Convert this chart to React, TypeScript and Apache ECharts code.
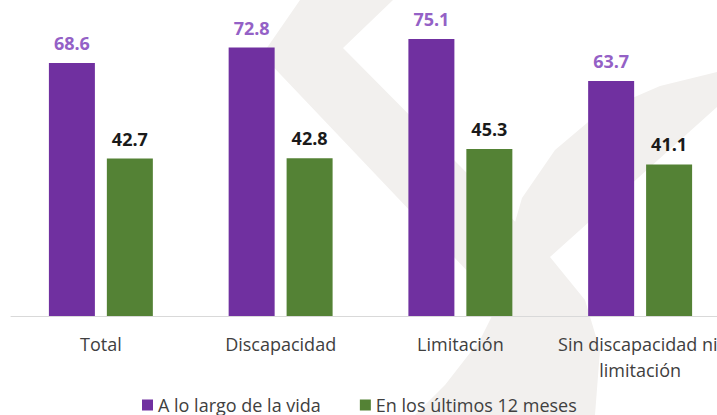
import React, { useEffect, useRef } from "react";
import * as echarts from "echarts";

const categories = ["Total", "Discapacidad", "Limitación", "Sin discapacidad ni limitación"];
const seriesNames = ["A lo largo de la vida", "En los últimos 12 meses"];
const lifetimeValues = [68.6, 72.8, 75.1, 63.7];
const last12Values = [42.7, 42.8, 45.3, 41.1];

const FONT = "'Open Sans', 'Noto Sans', sans-serif";
const PURPLE = "#7030A0";
const GREEN = "#548235";
const WATERMARK = "#f2f0ee";

export default function App() {
  const ref = useRef<HTMLDivElement>(null);

  useEffect(() => {
    if (!ref.current) return;
    const chart = echarts.init(ref.current, undefined, { renderer: "svg" });
    chart.setOption({
      animation: false,
      backgroundColor: "#ffffff",
      graphic: [
        {
          type: "polygon",
          z: -10,
          silent: true,
          shape: {
            points: [
              [300, 0], [393, 0], [343, 48], [550, 257], [510, 316], [262, 55],
            ],
          },
          style: { fill: WATERMARK },
        },
        {
          type: "polygon",
          z: -10,
          silent: true,
          shape: {
            points: [
              [717, 72], [660, 86], [600, 112], [555, 150], [522, 198], [507, 250],
              [500, 300], [480, 340], [445, 385], [415, 415], [595, 415], [600, 350],
              [585, 300], [550, 257], [717, 107],
            ],
          },
          style: { fill: WATERMARK },
        },
      ],
      grid: { left: 11, right: 0, top: 21, bottom: 99, containLabel: false },
      legend: {
        data: seriesNames,
        left: 137,
        top: 391,
        icon: "rect",
        itemWidth: 11,
        itemHeight: 11,
        itemGap: 39,
        textStyle: { fontFamily: FONT, fontSize: 18, color: "#404040" },
      },
      xAxis: {
        type: "category",
        data: categories,
        axisLine: { show: true, lineStyle: { color: "#d9d9d9", width: 1 } },
        axisTick: { show: false },
        axisLabel: {
          interval: 0,
          margin: 15,
          fontFamily: FONT,
          fontSize: 18,
          lineHeight: 26,
          color: "#404040",
          width: 172,
          overflow: "break",
        },
      },
      yAxis: {
        type: "value",
        min: 0,
        max: 80,
        show: false,
        splitLine: { show: false },
      },
      series: [
        {
          name: seriesNames[0],
          type: "bar",
          data: lifetimeValues,
          barWidth: 46,
          barGap: "26%",
          itemStyle: { color: PURPLE },
          label: {
            show: true,
            position: "top",
            distance: 11,
            fontFamily: FONT,
            fontSize: 18,
            fontWeight: "bold",
            color: "#9461C6",
            formatter: (p: any) => p.value.toFixed(1),
          },
        },
        {
          name: seriesNames[1],
          type: "bar",
          data: last12Values,
          barWidth: 46,
          itemStyle: { color: GREEN },
          label: {
            show: true,
            position: "top",
            distance: 11,
            fontFamily: FONT,
            fontSize: 18,
            fontWeight: "bold",
            color: "#1a1a1a",
            formatter: (p: any) => p.value.toFixed(1),
          },
        },
      ],
    });
    return () => chart.dispose();
  }, []);

  return (
    <div style={{ position: "fixed", left: 0, top: 0, width: 717, height: 415, overflow: "hidden", background: "#fff" }}>
      <div ref={ref} style={{ width: 730, height: 415 }} />
    </div>
  );
}
